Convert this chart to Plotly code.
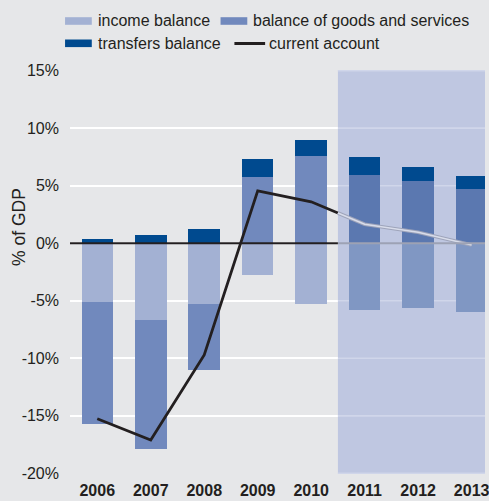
import plotly.graph_objects as go

# Balance of payments components, % of GDP (2011-2013 are forecasts)
years = ["2006", "2007", "2008", "2009", "2010", "2011", "2012", "2013"]
income_balance = [-5.1, -6.7, -5.3, -2.8, -5.3, -5.8, -5.65, -5.95]
goods_services = [-10.6, -11.2, -5.7, 5.75, 7.55, 5.9, 5.4, 4.7]
transfers_balance = [0.4, 0.75, 1.27, 1.55, 1.4, 1.55, 1.2, 1.12]
current_account = [-15.25, -17.1, -9.7, 4.55, 3.6, 1.65, 0.95, -0.15]
first_forecast = 5  # index of the first forecast year

y_ticks = [-20, -15, -10, -5, 0, 5, 10, 15]
y_tick_text = [f"{v}%" for v in y_ticks]

# colours
BG = "#e6e7e9"
SHADE = "#bfc7e1"
TXT = "#231f20"
INCOME = ("#a3b1d3", "#8097c3")
GOODS = ("#7189bd", "#5b78b0")
TRANSFERS = ("#004a8f", "#004a8f")
FC_GRID = "#d0d6ea"
FC_ZERO = "#9da2b4"

x = list(range(len(years)))


def colours(pair):
    return [pair[0] if i < first_forecast else pair[1] for i in x]


fig = go.Figure()
bar_w = 0.59
fig.add_trace(go.Bar(x=x, y=income_balance, marker_color=colours(INCOME),
                     marker_line_width=0, width=bar_w, name="income balance", showlegend=False))
fig.add_trace(go.Bar(x=x, y=goods_services, marker_color=colours(GOODS),
                     marker_line_width=0, width=bar_w, name="balance of goods and services", showlegend=False))
fig.add_trace(go.Bar(x=x, y=transfers_balance, marker_color=colours(TRANSFERS),
                     marker_line_width=0, width=bar_w, name="transfers balance", showlegend=False))

# current account: solid up to the forecast boundary, light beyond it
split_x = first_forecast - 0.5
split_y = (current_account[first_forecast - 1] + current_account[first_forecast]) / 2
hist_x = x[:first_forecast] + [split_x]
hist_y = current_account[:first_forecast] + [split_y]
fc_x = [split_x] + x[first_forecast:]
fc_y = [split_y] + current_account[first_forecast:]

fig.add_trace(go.Scatter(x=hist_x, y=hist_y, mode="lines",
                         line=dict(color=TXT, width=2.8), showlegend=False, hoverinfo="skip"))
fig.add_trace(go.Scatter(x=fc_x, y=fc_y, mode="lines",
                         line=dict(color="#9ea4ba", width=3.6), showlegend=False, hoverinfo="skip"))
fig.add_trace(go.Scatter(x=fc_x, y=fc_y, mode="lines",
                         line=dict(color="#d8dcea", width=1.6), showlegend=False, hoverinfo="skip"))

x_lo, x_hi = -0.51, 7.25
y_lo, y_hi = y_ticks[0], y_ticks[-1]

shapes = [
    # forecast band
    dict(type="rect", xref="x", yref="y", x0=split_x, x1=x_hi + 1, y0=y_lo, y1=y_hi,
         fillcolor=SHADE, line_width=0, layer="between"),
]
# softened gridlines inside the forecast band
for v in y_ticks:
    if v == 0:
        continue
    shapes.append(dict(type="line", xref="x", yref="y", x0=split_x, x1=x_hi + 1, y0=v, y1=v,
                       line=dict(color=FC_GRID, width=1.6), layer="between"))
# zero line
shapes.append(dict(type="line", xref="x", yref="y", x0=x_lo, x1=split_x, y0=0, y1=0,
                   line=dict(color=TXT, width=2), layer="above"))
shapes.append(dict(type="line", xref="x", yref="y", x0=split_x, x1=x_hi + 1, y0=0, y1=0,
                   line=dict(color=FC_ZERO, width=2), layer="above"))

# legend (drawn in pixel positions converted to paper coordinates)
L, T, W, H = 70, 70, 419, 404


def px(xp):
    return (xp - L) / W


def py(yp):
    return (T + H - yp) / H


annotations = []
legend_items = [
    ("bar", INCOME[0], 65, 92, 21, 96, "income balance"),
    ("bar", GOODS[0], 222, 249, 21, 253, "balance of goods and services"),
    ("bar", TRANSFERS[0], 65, 92, 43.3, 96, "transfers balance"),
    ("line", TXT, 236, 267, 43.5, 269, "current account"),
]
for kind, col, x0, x1, yc, tx, label in legend_items:
    if kind == "bar":
        shapes.append(dict(type="rect", xref="paper", yref="paper", x0=px(x0), x1=px(x1),
                           y0=py(yc + 3.8), y1=py(yc - 3.8), fillcolor=col, line_width=0))
    else:
        shapes.append(dict(type="line", xref="paper", yref="paper", x0=px(x0), x1=px(x1),
                           y0=py(yc), y1=py(yc), line=dict(color=col, width=3)))
    annotations.append(dict(xref="paper", yref="paper", x=px(tx), y=py(yc), text=label,
                            showarrow=False, xanchor="left", yanchor="middle",
                            font=dict(size=16, color=TXT)))

annotations.append(dict(xref="paper", yref="paper", x=px(18.5), y=py(227), text="% of GDP",
                        textangle=-90, showarrow=False, xanchor="center", yanchor="middle",
                        font=dict(size=17.5, color=TXT)))

fig.update_layout(
    width=489, height=501,
    margin=dict(l=L, r=0, t=T, b=501 - T - H, pad=0),
    paper_bgcolor=BG, plot_bgcolor=BG,
    barmode="relative", bargap=0,
    font=dict(family="Liberation Sans, Arial, sans-serif", size=16, color=TXT),
    shapes=shapes, annotations=annotations,
    showlegend=False,
    xaxis=dict(range=[x_lo, x_hi], tickmode="array", tickvals=x, ticktext=[f"<b>{y}</b>" for y in years],
               showgrid=False, zeroline=False, showline=False, ticks="",
               ticklabeloverflow="allow", ticklabelstandoff=5,
               tickfont=dict(size=16, color=TXT)),
    yaxis=dict(range=[y_lo - 0.05, y_hi + 0.05], tickmode="array", tickvals=y_ticks, ticktext=y_tick_text,
               showgrid=True, gridcolor="white", gridwidth=2, zeroline=False, showline=False,
               ticks="", ticklabelstandoff=10, tickfont=dict(size=16, color=TXT)),
)

fig.write_html("out.html")
